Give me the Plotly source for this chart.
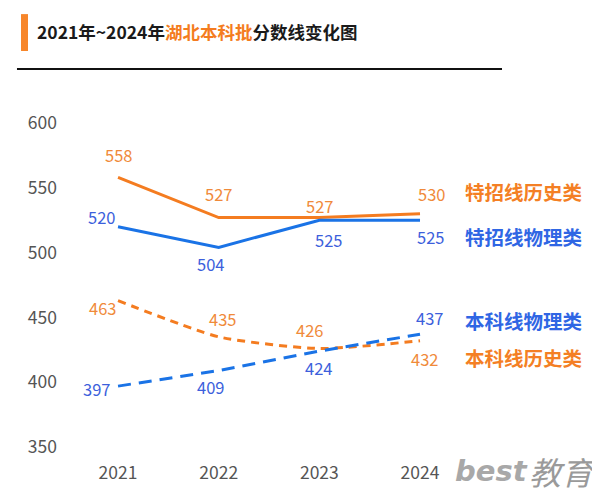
import plotly.graph_objects as go

years = [2021, 2022, 2023, 2024]
tezhao_history = [558, 527, 527, 530]
tezhao_physics = [520, 504, 525, 525]
benke_history = [463, 435, 426, 432]
benke_physics = [397, 409, 424, 437]
y_ticks = [350, 400, 450, 500, 550, 600]

ORANGE = "#f47c20"
BLUE = "#1a73e6"
ORANGE_LBL = "#f08a3a"
BLUE_LBL = "#3d5fdc"
FONT = "Noto Sans CJK SC"

fig = go.Figure()
fig.add_trace(go.Scatter(x=years, y=tezhao_history, mode="lines",
                         line=dict(color=ORANGE, width=3)))
fig.add_trace(go.Scatter(x=years, y=tezhao_physics, mode="lines",
                         line=dict(color=BLUE, width=3)))
fig.add_trace(go.Scatter(x=years, y=benke_history, mode="lines",
                         line=dict(color=ORANGE, width=3, dash="8px,6px",
                                   shape="spline", smoothing=0.6)))
fig.add_trace(go.Scatter(x=years, y=benke_physics, mode="lines",
                         line=dict(color=BLUE, width=3, dash="13px,8px")))

# data label offsets (pixels) per series
label_specs = [
    (tezhao_history, ORANGE_LBL, [(0, 22), (0, 24), (0, 12), (11, 20)]),
    (tezhao_physics, BLUE_LBL, [(-17, 10), (-8, -17), (9, -20), (10, -17)]),
    (benke_history, ORANGE_LBL, [(-16, -7), (4, 18), (-10, 19), (4, -18)]),
    (benke_physics, BLUE_LBL, [(-22, -3), (-8, -16), (-1, -17), (9, 16)]),
]
for vals, col, offs in label_specs:
    for xv, yv, (dx, dy) in zip(years, vals, offs):
        fig.add_annotation(x=xv, y=yv, xref="x", yref="y", text=str(yv),
                           showarrow=False, xshift=dx, yshift=dy,
                           font=dict(family=FONT, size=16.5, color=col))

series_names = [("特招线历史类", "#f47f24", 547.5), ("特招线物理类", "#2f66e4", 512.8),
                ("本科线物理类", "#2f66e4", 448.0), ("本科线历史类", "#f47f24", 418.7)]
for name, col, yv in series_names:
    fig.add_annotation(x=2024, y=yv, xref="x", yref="y", text=name,
                       showarrow=False, xanchor="left", xshift=43,
                       font=dict(family=FONT, size=19.5, color=col, weight="bold"))

# watermark
fig.add_annotation(x=0.8628, y=-0.0314, xref="paper", yref="paper", text="best",
                   showarrow=False, xanchor="right", yanchor="middle", xshift=3,
                   font=dict(family="DejaVu Sans", size=29, color="#a8a8a8",
                             weight="bold", style="italic"))
fig.add_annotation(x=0.8628, y=-0.0314, xref="paper", yref="paper", text="教育",
                   showarrow=False, xanchor="left", yanchor="middle", xshift=0,
                   font=dict(family=FONT, size=32, color="#9a9a9a",
                             style="italic"))

# header decorations
fig.add_shape(type="rect", xref="paper", yref="paper", x0=-0.0883, x1=-0.0752,
              y0=1.1686, y1=1.274, fillcolor="#f7862a", line=dict(width=0))
fig.add_shape(type="line", xref="paper", yref="paper", x0=-0.0959, x1=0.8158,
              y0=1.117, y1=1.117, line=dict(color="#111111", width=2))
fig.add_shape(type="line", xref="paper", yref="paper", x0=0.9944, x1=0.9944,
              y0=-0.1, y1=1.3, line=dict(color="#c8c8c8", width=1))

# page body adds an 8px offset, so the figure is 8px smaller and shifted
fig.update_layout(
    width=592, height=488,
    margin=dict(l=60, r=0, t=102, b=36),
    paper_bgcolor="white", plot_bgcolor="white",
    showlegend=False,
    title=dict(
        text="2021年~2024年<span style='color:#f47c20'>湖北本科批</span>分数线变化图",
        x=29 / 592, xanchor="left", xref="container",
        y=1 - 25 / 488, yanchor="middle", yref="container",
        font=dict(family=FONT, size=17.5, color="#1a1a1a", weight="bold"),
    ),
    xaxis=dict(range=[2020.503, 2025.788], tickvals=years,
               ticktext=[str(y) for y in years], showgrid=False, zeroline=False,
               showline=False, ticks="", tickfont=dict(family=FONT, size=17.5, color="#555555")),
    yaxis=dict(range=[340, 610], tickvals=y_ticks, showgrid=False, zeroline=False,
               showline=False, ticks="", ticklabelstandoff=10,
               tickfont=dict(family=FONT, size=17.5, color="#555555")),
)

fig.write_html("out.html")
